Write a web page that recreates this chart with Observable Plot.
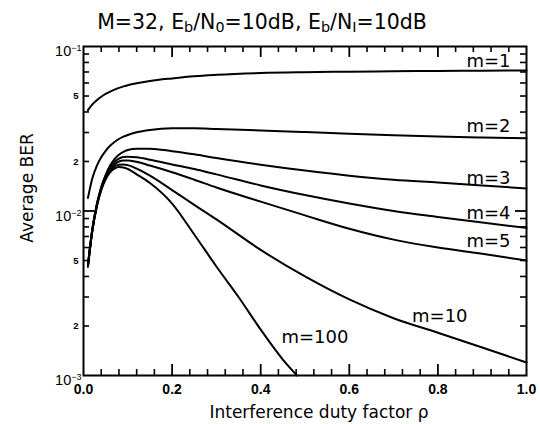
<!DOCTYPE html>
<html><head><meta charset="utf-8">
<script src="https://cdn.jsdelivr.net/npm/d3@7"></script>
<script src="https://cdn.jsdelivr.net/npm/@observablehq/plot@0.6"></script>
<style>body{margin:0;background:#fff}</style>
</head><body><div id="chart"></div>
<script>
// ---- data ----
const rhoGrid = [0.01,0.02,0.03,0.04,0.05,0.06,0.07,0.08,0.09,0.1,0.12,0.15,0.2,0.25,0.3,0.4,0.5,0.6,0.7,0.8,0.9,1.0];
const berM1  = [0.0410,0.0445,0.0472,0.0495,0.0515,0.0532,0.0547,0.0560,0.0572,0.0582,0.0598,0.0617,0.0640,0.0660,0.0673,0.0690,0.0698,0.0703,0.0707,0.0710,0.0713,0.0715];
const berM2  = [0.0120,0.0158,0.0188,0.0212,0.0232,0.0249,0.0263,0.0274,0.0283,0.0290,0.0301,0.0311,0.0318,0.0318,0.0315,0.0309,0.0302,0.0295,0.0289,0.0284,0.0280,0.0277];
const berM3  = [0.0047,0.0078,0.0110,0.0140,0.0166,0.0189,0.0207,0.0220,0.0229,0.0235,0.0239,0.0239,0.0231,0.0221,0.0210,0.0191,0.0176,0.0164,0.0155,0.0149,0.0143,0.0137];
const berM4  = [0.0047,0.0077,0.0109,0.0138,0.0163,0.0183,0.0199,0.0208,0.0213,0.0214,0.0212,0.0205,0.0192,0.0180,0.0167,0.0143,0.0125,0.0111,0.0100,0.0092,0.0085,0.0079];
const berM5  = [0.0046,0.0077,0.0108,0.0137,0.0161,0.0179,0.0192,0.0200,0.0203,0.0203,0.0199,0.0189,0.0172,0.0155,0.0139,0.0114,0.0094,0.0078,0.0067,0.0060,0.0055,0.0050];
const berM10 = [0.0046,0.0076,0.0107,0.0135,0.0158,0.0175,0.0186,0.0191,0.0192,0.0190,0.0181,0.0164,0.0134,0.0109,0.0089,0.0058,0.0040,0.0029,0.00223,0.00182,0.00148,0.00120];
const rhoM100 = [0.01,0.02,0.03,0.04,0.05,0.06,0.07,0.08,0.09,0.1,0.12,0.15,0.2,0.25,0.3,0.35,0.4,0.45,0.482];
const berM100 = [0.0046,0.0076,0.0106,0.0134,0.0156,0.0172,0.0181,0.0185,0.0184,0.0180,0.0167,0.0148,0.0111,0.0072,0.0046,0.0030,0.0019,0.00125,0.0010];

const seriesNames = ["m=1","m=2","m=3","m=4","m=5","m=10","m=100"];
const labelRho = [0.964,0.964,0.964,0.964,0.964,0.867,0.598];
const labelBer = [0.0748,0.0301,0.01463,0.00897,0.00603,0.00211,0.00157];

const xTickLabels = [0,0.2,0.4,0.6,0.8,1.0];
const xMinorTicks = [0.04,0.08,0.12,0.16,0.24,0.28,0.32,0.36,0.44,0.48,0.52,0.56,0.64,0.68,0.72,0.76,0.84,0.88,0.92,0.96];
const xMajorTicks = [0.2,0.4,0.6,0.8];
const yMajorTicks = [0.01];
const yMinorTicks = [0.002,0.003,0.004,0.005,0.006,0.007,0.008,0.009,0.02,0.03,0.04,0.05,0.06,0.07,0.08,0.09];
const yDecadeValues = [0.1,0.01,0.001];
const yDecadeText = ["10^-1","10^-2","10^-3"];
const yMantValues = [0.05,0.02,0.005,0.002];
const yMantText = ["5","2","5","2"];

const titleText = "M=32, E_b/N_0=10dB, E_b/N_I=10dB";
const xLabel = "Interference duty factor ρ";
const yLabel = "Average BER";

// ---- table built from arrays ----
const seriesRho = [rhoGrid,rhoGrid,rhoGrid,rhoGrid,rhoGrid,rhoGrid,rhoM100];
const seriesBer = [berM1,berM2,berM3,berM4,berM5,berM10,berM100];
const rows = [];
seriesNames.forEach((m, k) => seriesRho[k].forEach((r, i) => rows.push({m, rho: r, ber: seriesBer[k][i]})));
const labels = seriesNames.map((t, i) => ({t, rho: labelRho[i], ber: labelBer[i]}));

const FONT = "DejaVu Sans";
const TICKFONT = "Liberation Sans";
const W = 540, H = 424, ML = 83, MR = 14, MT = 46, MB = 49;
const FW = W - ML - MR, FH = H - MT - MB;
const MINOR = 6, MAJOR = 11;
const TC = "black";

const plot = Plot.plot({
  width: W, height: H,
  marginLeft: ML, marginRight: MR, marginTop: MT, marginBottom: MB,
  x: {domain: [0, 1], axis: null},
  y: {type: "log", domain: [0.001, 0.1], axis: null},
  style: {fontFamily: FONT, background: "white", color: "black"},
  marks: [
    Plot.frame({stroke: "black", strokeWidth: 2}),
    // inward ticks on all four sides
    Plot.tickX(xMinorTicks, {x: d => d, insetTop: FH - MINOR, stroke: TC, strokeWidth: 1.6}),
    Plot.tickX(xMinorTicks, {x: d => d, insetBottom: FH - MINOR, stroke: TC, strokeWidth: 1.6}),
    Plot.tickX(xMajorTicks, {x: d => d, insetTop: FH - MAJOR, stroke: TC, strokeWidth: 1.8}),
    Plot.tickX(xMajorTicks, {x: d => d, insetBottom: FH - MAJOR, stroke: TC, strokeWidth: 1.8}),
    Plot.tickY(yMinorTicks, {y: d => d, insetRight: FW - MINOR, stroke: TC, strokeWidth: 1.6}),
    Plot.tickY(yMinorTicks, {y: d => d, insetLeft: FW - MINOR, stroke: TC, strokeWidth: 1.6}),
    Plot.tickY(yMajorTicks, {y: d => d, insetRight: FW - MAJOR, stroke: TC, strokeWidth: 1.8}),
    Plot.tickY(yMajorTicks, {y: d => d, insetLeft: FW - MAJOR, stroke: TC, strokeWidth: 1.8}),
    // x tick labels
    Plot.text(xTickLabels, {x: d => d, text: d => d.toFixed(1), frameAnchor: "bottom", lineAnchor: "top", dy: 9, fontFamily: TICKFONT, fontWeight: "bold", fontSize: 14}),
    // curves
    Plot.line(rows, {x: "rho", y: "ber", z: "m", stroke: "black", strokeWidth: 2, curve: "monotone-x"}),
    Plot.text(labels, {x: "rho", y: "ber", text: "t", textAnchor: "end", lineAnchor: "bottom", fontSize: 18, fontFamily: FONT, ariaLabel: "curve-labels"}),
    // y tick labels
    Plot.text(yDecadeValues, {y: d => d, text: (d, i) => yDecadeText[i], frameAnchor: "left", textAnchor: "end", lineAnchor: "middle", dx: -2, dy: 5, fontSize: 14.5, fontFamily: TICKFONT}),
    Plot.text(yMantValues, {y: d => d, text: (d, i) => yMantText[i], frameAnchor: "left", textAnchor: "end", lineAnchor: "middle", dx: -5, fontSize: 9.5, fontWeight: "bold", fontFamily: TICKFONT}),
    // axis labels and title
    Plot.text([xLabel], {frameAnchor: "bottom", textAnchor: "middle", lineAnchor: "bottom", dx: 14, dy: 42, fontSize: 17, fontFamily: FONT, ariaLabel: "x-label"}),
    Plot.text([yLabel], {frameAnchor: "left", rotate: -90, textAnchor: "middle", lineAnchor: "middle", dx: -56, dy: -23, fontSize: 17, fontFamily: FONT, ariaLabel: "y-label"}),
    Plot.text([titleText], {frameAnchor: "top", textAnchor: "middle", lineAnchor: "bottom", dx: -43, dy: -18, fontSize: 20.5, fontFamily: FONT, ariaLabel: "title"})
  ]
});
document.getElementById("chart").append(plot);

// ---- sub/superscripts as real text ----
const svg = d3.select(plot);
svg.selectAll("text").each(function () {
  const t = this.textContent;
  if (!/[_^]/.test(t)) return;
  const sel = d3.select(this);
  sel.text(null);
  const tokens = t.match(/\^-?\d|_[^\s]|[^_^]+/g);
  let shift = 0;
  tokens.forEach(tok => {
    if (tok[0] === "^") {
      sel.append("tspan").attr("dy", "-0.55em").attr("font-size", "0.62em").text(tok.slice(1).replace("-", "\u2212"));
      shift = 0.55 * 0.62;
    } else if (tok[0] === "_") {
      sel.append("tspan").attr("dy", "0.25em").attr("font-size", "0.7em").text(tok.slice(1));
      shift = -0.25 * 0.7;
    } else {
      const sp = sel.append("tspan").text(tok);
      if (shift) sp.attr("dy", shift + "em");
      shift = 0;
    }
  });
});
// wide glyphs of the reference
const stretch = (sel, len) => sel.attr("textLength", len).attr("lengthAdjust", "spacingAndGlyphs");
stretch(svg.selectAll('g[aria-label="title"] text'), 347);
stretch(svg.selectAll('g[aria-label="x-label"] text'), 305);
stretch(svg.selectAll('g[aria-label="y-label"] text'), 127);
svg.selectAll('g[aria-label="curve-labels"] text').each(function () {
  stretch(d3.select(this), this.getComputedTextLength() * 1.12);
});
</script>
</body></html>
